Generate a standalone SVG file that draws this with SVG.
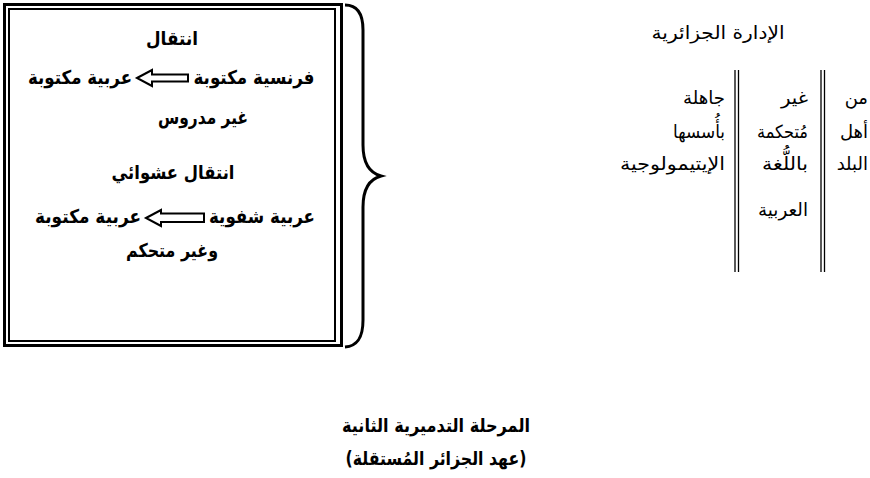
<svg xmlns="http://www.w3.org/2000/svg" width="870" height="478" viewBox="0 0 870 478">
<style>
.b{font-family:"DejaVu Sans",sans-serif;font-weight:bold;font-size:19px;fill:#000}
.r{font-family:"DejaVu Sans",sans-serif;font-size:18px;fill:#000}
.ln{stroke:#000;fill:none}
.arr{stroke:#000;stroke-width:2;fill:#fff;stroke-linejoin:miter}
</style>
<rect width="870" height="478" fill="#fff"/>
<g id="box">
<rect class="ln" x="4.5" y="4.5" width="337" height="341" stroke-width="3"/>
<rect class="ln" x="9" y="9" width="326" height="332" stroke-width="2"/>
</g>
<g id="brace">
<path class="ln" stroke-width="3" d="M345,5 C358,5 363,15 363,30 L363,145 C363,164 370,173 381,176 C370,179 363,188 363,207 L363,320 C363,337 358,346 345,347"/>
</g>
<g id="left-text">
<text class="b" x="172" y="45" text-anchor="middle" textLength="52" lengthAdjust="spacingAndGlyphs">انتقال</text>
<text class="b" x="254" y="84" text-anchor="middle" textLength="121" lengthAdjust="spacingAndGlyphs">فرنسية مكتوبة</text>
<text class="b" x="80" y="84" text-anchor="middle" textLength="104" lengthAdjust="spacingAndGlyphs">عربية مكتوبة</text>
<text class="b" x="203" y="124" text-anchor="middle" textLength="90" lengthAdjust="spacingAndGlyphs">غير مدروس</text>
<text class="b" x="173" y="179" text-anchor="middle" textLength="123" lengthAdjust="spacingAndGlyphs">انتقال عشوائي</text>
<text class="b" x="262" y="223" text-anchor="middle" textLength="106" lengthAdjust="spacingAndGlyphs">عربية شفوية</text>
<text class="b" x="88" y="223" text-anchor="middle" textLength="106" lengthAdjust="spacingAndGlyphs">عربية مكتوبة</text>
<text class="b" x="172" y="257" text-anchor="middle" textLength="92" lengthAdjust="spacingAndGlyphs">وغير متحكم</text>
</g>
<g id="connectors">
<polygon class="arr" points="137,78 152,70 152,74.5 188,74.5 188,81.5 152,81.5 152,86"/>
<polygon class="arr" points="146,218 161,210 161,213.5 204,213.5 204,222 161,222 161,226"/>
</g>
<g id="right-columns">
<text class="r" x="718" y="39" text-anchor="middle" textLength="133" lengthAdjust="spacingAndGlyphs">الإدارة الجزائرية</text>
<line class="ln" x1="735" y1="70" x2="735" y2="272" stroke-width="1.3"/>
<line class="ln" x1="738.5" y1="70" x2="738.5" y2="272" stroke-width="1.3"/>
<line class="ln" x1="821" y1="70" x2="821" y2="272" stroke-width="1.3"/>
<line class="ln" x1="824.5" y1="70" x2="824.5" y2="272" stroke-width="1.3"/>
<text class="r" x="868" y="104" text-anchor="end">من</text>
<text class="r" x="868" y="138" text-anchor="end">أهل</text>
<text class="r" x="868" y="170" text-anchor="end">البلد</text>
<text class="r" x="808" y="104" text-anchor="end" textLength="27" lengthAdjust="spacingAndGlyphs">غير</text>
<text class="r" x="808" y="138" text-anchor="end" textLength="51" lengthAdjust="spacingAndGlyphs">مُتحكمة</text>
<text class="r" x="808" y="170" text-anchor="end" textLength="46" lengthAdjust="spacingAndGlyphs">باللُّغة</text>
<text class="r" x="808" y="216" text-anchor="end" textLength="50" lengthAdjust="spacingAndGlyphs">العربية</text>
<text class="r" x="725" y="104" text-anchor="end" textLength="42" lengthAdjust="spacingAndGlyphs">جاهلة</text>
<text class="r" x="725" y="138" text-anchor="end" textLength="52" lengthAdjust="spacingAndGlyphs">بأُسسها</text>
<text class="r" x="725" y="170" text-anchor="end" textLength="105" lengthAdjust="spacingAndGlyphs">الإيتيمولوجية</text>
</g>
<g id="caption">
<text class="b" x="436" y="432" text-anchor="middle" textLength="188" lengthAdjust="spacingAndGlyphs">المرحلة التدميرية الثانية</text>
<text class="b" x="436" y="465" text-anchor="middle" textLength="181" lengthAdjust="spacingAndGlyphs">(عهد الجزائر المُستقلة)</text>
</g>
</svg>
